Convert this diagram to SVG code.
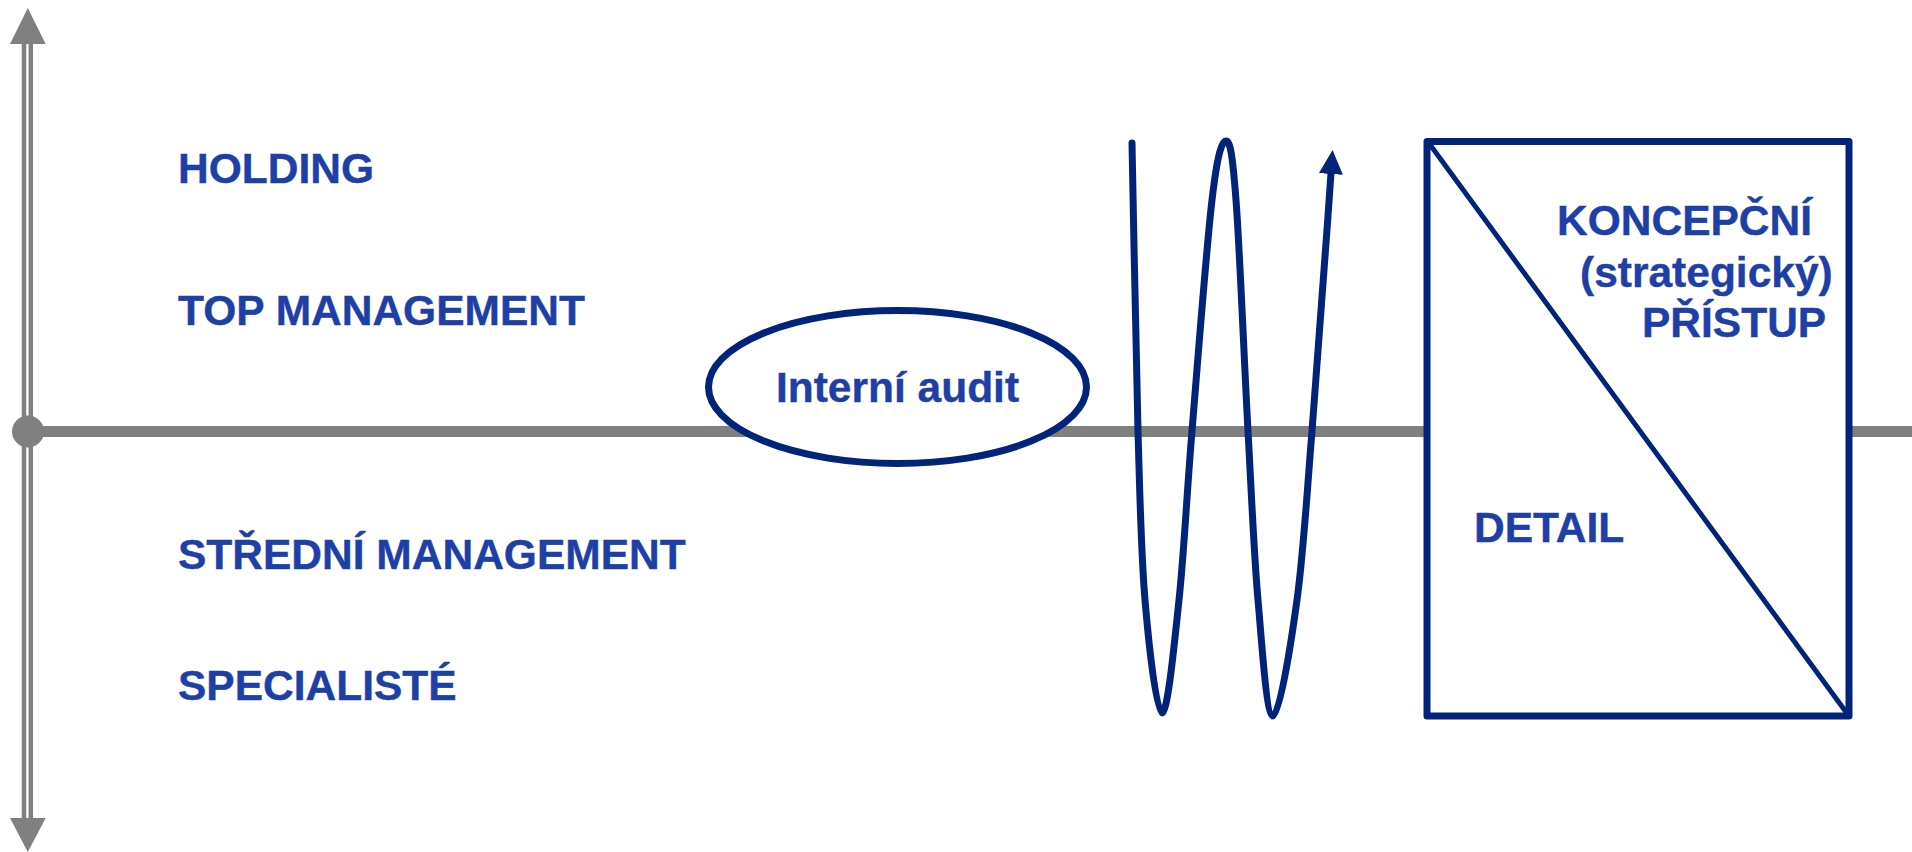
<svg xmlns="http://www.w3.org/2000/svg" width="1912" height="852" viewBox="0 0 1912 852">
  <style>
    .lbl { font-family: "Liberation Sans", Arial, sans-serif; font-weight: bold; font-size: 42.5px; fill: #1E3FA5; stroke: #1E3FA5; stroke-width: 0.4px; }
    .axis { stroke: #808080; fill: none; }
    .navy { stroke: #00247A; fill: none; stroke-linejoin: round; stroke-linecap: round; }
  </style>
  <defs>
    <marker id="navyArrow" markerUnits="userSpaceOnUse" markerWidth="24" markerHeight="24" viewBox="0 0 24 24" refX="1" refY="12" orient="auto">
      <path d="M0,0 L24,12 L0,24 Z" fill="#00247A"/>
    </marker>
  </defs>
  <rect width="1912" height="852" fill="#ffffff"/>

  <g id="axes">
    <line class="axis" x1="24" y1="42" x2="24" y2="820" stroke-width="4.5"/>
    <line class="axis" x1="30.8" y1="42" x2="30.8" y2="820" stroke-width="4.5"/>
    <polygon points="27.8,8 10,44 45.7,44" fill="#808080"/>
    <polygon points="27.8,852 10,818 45.7,818" fill="#808080"/>
    <line class="axis" x1="28" y1="431.5" x2="1912" y2="431.5" stroke-width="11"/>
    <circle cx="28" cy="431.5" r="16" fill="#808080"/>
  </g>

  <g id="levels">
    <text class="lbl" x="178" y="183">HOLDING</text>
    <text class="lbl" x="178" y="325">TOP MANAGEMENT</text>
    <text class="lbl" x="178" y="569">STŘEDNÍ MANAGEMENT</text>
    <text class="lbl" x="178" y="700">SPECIALISTÉ</text>
  </g>

  <g id="interni-audit">
    <ellipse cx="897.5" cy="387" rx="189" ry="76.5" fill="#ffffff" stroke="#00247A" stroke-width="7"/>
    <text class="lbl" x="897.5" y="402" text-anchor="middle">Interní audit</text>
  </g>

  <g id="connectors">
    <path class="navy" stroke-width="7" marker-end="url(#navyArrow)"
      d="M1132,143 C1134,239 1135.8,354.8 1138,431 C1140.2,507.2 1141,553 1145,600 C1149,647 1156.3,713 1162,713 C1167.7,713 1174,647 1179,600 C1184,553 1186.5,497.7 1192,431 C1197.5,364.3 1206.3,248.3 1212,200 C1217.7,151.7 1222,141 1226,141 C1230,141 1232.3,151.7 1236,200 C1239.7,248.3 1244.3,364.3 1248,431 C1251.7,497.7 1253.8,552.5 1258,600 C1262.2,647.5 1266.5,716 1273,716 C1279.5,716 1290.5,647.5 1297,600 C1303.5,552.5 1306.3,501.3 1312,431 C1317.7,360.7 1324.7,264 1331,173"/>
  </g>

  <g id="pristup">
    <rect x="1427" y="141.5" width="422" height="574.5" fill="#ffffff" stroke="#00247A" stroke-width="7" stroke-linejoin="round"/>
    <line class="navy" x1="1431" y1="146" x2="1846" y2="712" stroke-width="5"/>
    <text class="lbl" x="1557" y="235">KONCEPČNÍ</text>
    <text class="lbl" x="1580" y="287">(strategický)</text>
    <text class="lbl" x="1642" y="337">PŘÍSTUP</text>
    <text class="lbl" x="1474" y="542">DETAIL</text>
  </g>
</svg>
